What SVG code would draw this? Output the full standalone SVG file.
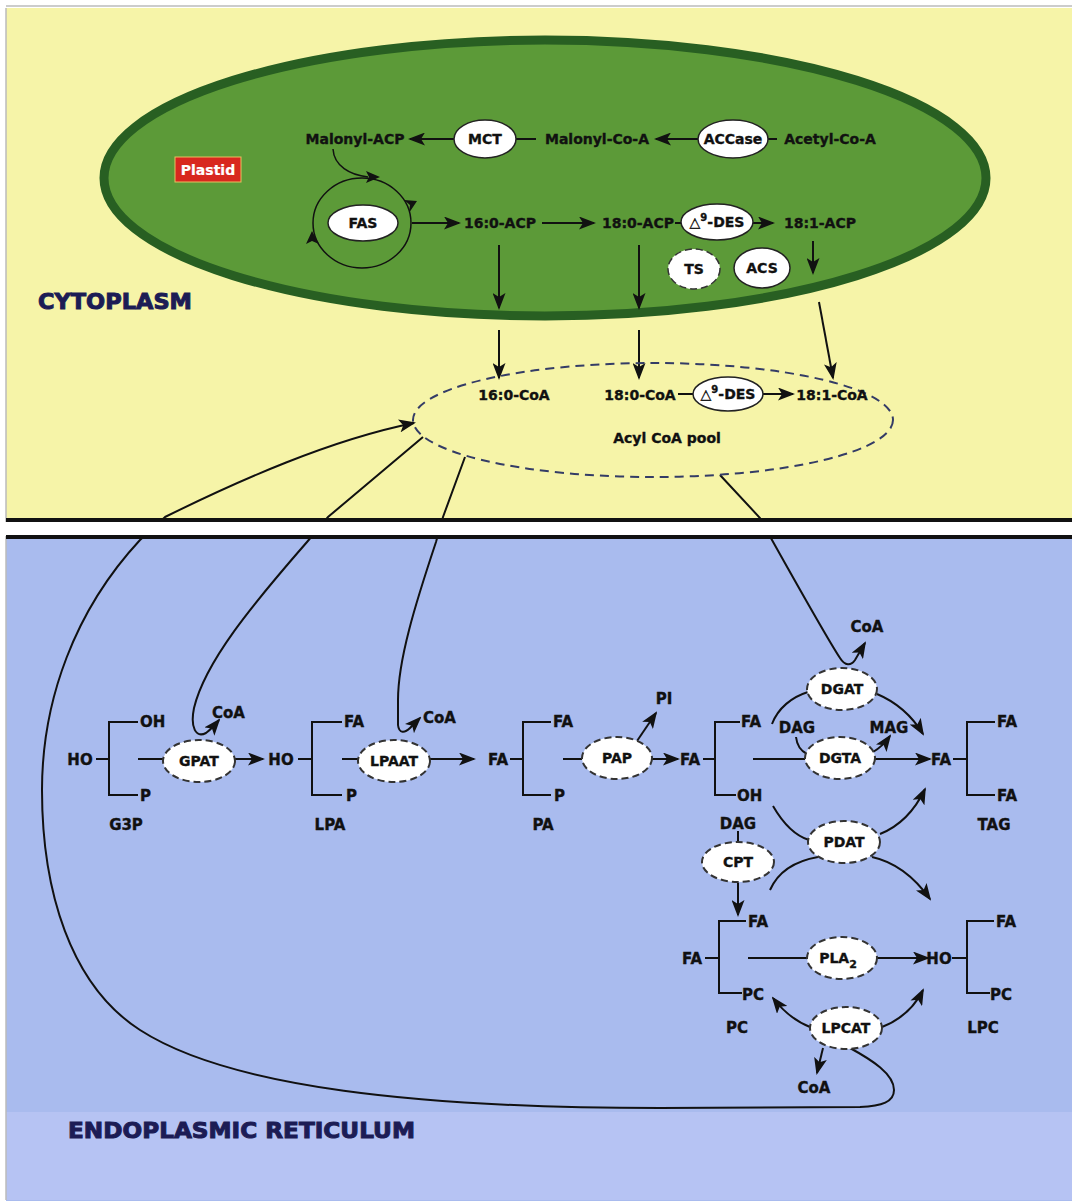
<svg xmlns="http://www.w3.org/2000/svg" width="1072" height="1203" viewBox="0 0 1072 1203">
<defs>
<marker id="ah" markerUnits="userSpaceOnUse" markerWidth="17" markerHeight="13" refX="15" refY="6.5" orient="auto">
<path d="M0,0 L17,6.5 L0,13 L4,6.5 z" fill="#111"/>
</marker>
</defs>
<style>
text{font-family:"DejaVu Sans","Liberation Sans",sans-serif;font-weight:bold;fill:#111;stroke:#111;stroke-width:0.35}
.t{font-size:14px;text-anchor:middle}
.e{font-size:14px;text-anchor:middle}
.l{font-size:15px}
.lc{font-size:15px;text-anchor:middle}
.head{font-size:22px;fill:#1c1c55;stroke:#1c1c55;stroke-width:1}
.line{fill:none;stroke:#111;stroke-width:2}
.arr{fill:none;stroke:#111;stroke-width:2;marker-end:url(#ah)}
.sol{fill:#fff;stroke:#222;stroke-width:1.5}
.dsh{fill:#fff;stroke:#333;stroke-width:2;stroke-dasharray:7,4}
.br{fill:none;stroke:#111;stroke-width:2}
</style>
<rect x="0" y="0" width="1072" height="1203" fill="#fff"/>
<!-- cytoplasm panel -->
<rect x="6" y="8" width="1066" height="512" fill="#f6f4a8"/>
<line x1="6" y1="6" x2="1072" y2="6" stroke="#ccc" stroke-width="2"/>
<!-- ER panel -->
<rect x="6" y="537" width="1066" height="664" fill="#a9bbee"/>
<rect x="6" y="1112" width="1066" height="88" fill="#b6c3f3"/>
<line x1="6" y1="8" x2="6" y2="1200" stroke="#bbb" stroke-width="1.5"/>

<!-- plastid -->
<g id="plastid">
<ellipse cx="545" cy="178" rx="441" ry="138" fill="#5c9a38" stroke="#285f22" stroke-width="9"/>
<rect x="175" y="157" width="66" height="25" fill="#d8281e" stroke="#e8c060" stroke-width="1"/>
<text x="208" y="175" style="font-size:14px;fill:#fff;stroke:#fff;stroke-width:0.2;text-anchor:middle">Plastid</text>
</g>

<!-- connectors -->
<g id="connectors">
<!-- plastid row 1 -->
<path class="arr" d="M454,139 L410,139"/>
<path class="line" d="M516,139 L536,139"/>
<path class="arr" d="M698,139 L656,139"/>
<path class="line" d="M768,139 L777,139"/>
<!-- FAS cycle -->
<ellipse cx="362" cy="223" rx="49" ry="45" fill="none" stroke="#111" stroke-width="1.5"/>
<path class="line" d="M333,149 C 334,166 350,175 368,177" style="stroke-width:1.5"/>
<path d="M366,171 L380,177 L366,183 L369,177 z" fill="#111"/>
<path d="M404,200 L417,201 L409,213 L410,205 z" fill="#111"/>
<path d="M306,244 L312,231 L319,244 L312,241 z" fill="#111"/>
<path class="arr" d="M412,223 L459,223"/>
<path class="arr" d="M542,223 L594,223"/>
<path class="line" d="M675,223 L682,223"/>
<path class="arr" d="M753,223 L773,223"/>
<!-- down arrows -->
<path class="arr" d="M499,245 L499,308"/>
<path class="arr" d="M639,245 L639,308"/>
<path class="arr" d="M813,241 L813,273"/>
<path class="arr" d="M499,330 L499,378"/>
<path class="arr" d="M639,330 L639,378"/>
<path class="arr" d="M819,302 L833,378"/>
<!-- pool -->
<path class="line" d="M678,394 L693,394"/>
<path class="arr" d="M763,394 L793,394"/>
<!-- big loop from LPCAT into pool -->
<path class="arr" d="M850,1048 C 872,1060 894,1074 894,1090 C 894,1102 882,1106 860,1107 L 660,1108 C 420,1108 230,1088 140,1030 C 70,985 42,890 42,790 C 42,700 75,610 140,540 L 165,517 C 240,480 330,440 414,423"/>
<!-- GPAT CoA line -->
<path class="arr" d="M423,437 L328,517 L307,542 C 252,605 205,662 194,708 C 190,728 196,738 206,733 C 210,730 214,726 219,720"/>
<!-- LPAAT CoA line -->
<path class="arr" d="M465,457 L443,517 L436,542 C 415,605 398,660 398,700 L 398,725 C 399,734 405,733 410,728 C 413,725 416,722 420,718"/>
<!-- DGAT CoA line -->
<path class="arr" d="M720,475 L760,518 L772,540 C 800,590 828,640 840,658 C 845,666 851,666 855,660 L 865,643"/>
<!-- G3P -> LPA -->
<path class="line" d="M138,759 L163,759"/>
<path class="arr" d="M235,759 L263,759"/>
<!-- LPA -> PA -->
<path class="line" d="M342,759 L358,759"/>
<path class="arr" d="M430,759 L474,759"/>
<!-- PA -> DAG -->
<path class="line" d="M563,759 L582,759"/>
<path class="arr" d="M652,759 L678,759"/>
<path class="arr" d="M637,741 L656,713"/>
<!-- DAG -> TAG -->
<path class="line" d="M753,759 L805,759"/>
<path class="arr" d="M875,759 L930,759"/>
<path class="line" d="M772,724 C 778,708 792,697 808,692"/>
<path class="arr" d="M877,694 C 896,702 912,716 923,734"/>
<path class="line" d="M796,737 C 797,746 801,751 807,754"/>
<path class="arr" d="M873,752 C 880,748 885,743 890,736"/>
<path class="line" d="M773,806 C 784,825 796,836 809,840"/>
<path class="arr" d="M880,834 C 900,826 915,810 925,789"/>
<path class="line" d="M770,890 C 778,872 795,861 818,857"/>
<path class="arr" d="M872,857 C 895,862 915,878 930,899"/>
<!-- CPT -->
<path class="line" d="M738,831 L738,842"/>
<path class="arr" d="M738,883 L738,915"/>
<!-- PC -> LPC -->
<path class="line" d="M748,958 L807,958"/>
<path class="arr" d="M877,958 L928,958"/>
<path class="arr" d="M810,1027 C 795,1021 783,1011 773,998"/>
<path class="arr" d="M882,1027 C 900,1020 914,1008 923,990"/>
<path class="arr" d="M823,1048 L817,1073"/>
</g>

<!-- Pool -->
<g id="acyl-coa-pool">
<ellipse cx="653" cy="420" rx="240" ry="57" fill="none" stroke="#343c66" stroke-width="2" stroke-dasharray="9,6"/>
<text class="t" x="514" y="400">16:0-CoA</text>
<text class="t" x="640" y="400">18:0-CoA</text>
<text class="t" x="832" y="400">18:1-CoA</text>
<text class="t" x="667" y="443">Acyl CoA pool</text>
</g>
<g id="des2"><ellipse class="sol" cx="728" cy="394" rx="35" ry="17"/><text class="e" x="728" y="399">△<tspan dy="-6" style="font-size:10px">9</tspan><tspan dy="6">-DES</tspan></text></g>

<!-- plastid texts -->
<g id="malonyl-acp"><text class="t" x="355" y="144">Malonyl-ACP</text></g>
<g id="mct"><ellipse class="sol" cx="485" cy="139" rx="31" ry="19"/><text class="e" x="485" y="144">MCT</text></g>
<g id="malonyl-coa"><text class="t" x="597" y="144">Malonyl-Co-A</text></g>
<g id="accase"><ellipse class="sol" cx="733" cy="139" rx="35" ry="19"/><text class="e" x="733" y="144">ACCase</text></g>
<g id="acetyl-coa"><text class="t" x="830" y="144">Acetyl-Co-A</text></g>
<g id="fas"><ellipse class="sol" cx="363" cy="223" rx="35" ry="18"/><text class="e" x="363" y="228">FAS</text></g>
<g id="c16acp"><text class="t" x="500" y="228">16:0-ACP</text></g>
<g id="c18acp"><text class="t" x="638" y="228">18:0-ACP</text></g>
<g id="des1"><ellipse class="sol" cx="717" cy="222" rx="36" ry="18"/><text class="e" x="717" y="227">△<tspan dy="-6" style="font-size:10px">9</tspan><tspan dy="6">-DES</tspan></text></g>
<g id="c181acp"><text class="t" x="820" y="228">18:1-ACP</text></g>
<g id="ts"><ellipse class="dsh" cx="694" cy="269" rx="26" ry="20" style="stroke-width:1.5"/><text class="e" x="694" y="274">TS</text></g>
<g id="acs"><ellipse class="sol" cx="762" cy="268" rx="28" ry="20"/><text class="e" x="762" y="273">ACS</text></g>

<text class="head" x="38" y="309" textLength="154" lengthAdjust="spacingAndGlyphs">CYTOPLASM</text>

<!-- gap between panels -->
<rect x="0" y="522" width="1072" height="14" fill="#fff"/>
<rect x="6" y="518" width="1066" height="4" fill="#111"/>
<rect x="6" y="535" width="1066" height="4" fill="#111"/>

<!-- ER nodes -->
<g id="g3p">
<text class="lc" x="80" y="765">HO</text>
<path class="br" d="M96,759 L109,759 M138,722 L109,722 L109,795 L138,795"/>
<text class="l" x="140" y="727">OH</text>
<text class="l" x="140" y="801">P</text>
<text class="lc" x="126" y="830">G3P</text>
</g>
<g id="gpat"><ellipse class="dsh" cx="199" cy="761" rx="36" ry="21"/><text class="e" x="199" y="766">GPAT</text></g>
<text class="l" x="212" y="718">CoA</text>
<g id="lpa">
<text class="lc" x="281" y="765">HO</text>
<path class="br" d="M298,759 L312,759 M342,722 L312,722 L312,795 L342,795"/>
<text class="l" x="344" y="727">FA</text>
<text class="l" x="346" y="801">P</text>
<text class="lc" x="330" y="830">LPA</text>
</g>
<g id="lpaat"><ellipse class="dsh" cx="394" cy="761" rx="36" ry="21"/><text class="e" x="394" y="766">LPAAT</text></g>
<text class="l" x="423" y="723">CoA</text>
<g id="pa">
<text class="lc" x="498" y="765">FA</text>
<path class="br" d="M510,759 L523,759 M551,722 L523,722 L523,795 L551,795"/>
<text class="l" x="553" y="727">FA</text>
<text class="l" x="554" y="801">P</text>
<text class="lc" x="543" y="830">PA</text>
</g>
<g id="pap"><ellipse class="dsh" cx="617" cy="758" rx="35" ry="21"/><text class="e" x="617" y="763">PAP</text></g>
<text class="lc" x="664" y="704">PI</text>
<g id="dag">
<text class="lc" x="690" y="765">FA</text>
<path class="br" d="M703,759 L715,759 M740,722 L715,722 L715,795 L736,795"/>
<text class="l" x="741" y="727">FA</text>
<text class="l" x="737" y="801">OH</text>
<text class="lc" x="738" y="829">DAG</text>
</g>
<g id="dgat"><ellipse class="dsh" cx="842" cy="689" rx="35" ry="21"/><text class="e" x="842" y="694">DGAT</text></g>
<text class="lc" x="867" y="632">CoA</text>
<text class="lc" x="797" y="733">DAG</text>
<text class="lc" x="889" y="733">MAG</text>
<g id="dgta"><ellipse class="dsh" cx="840" cy="758" rx="35" ry="21"/><text class="e" x="840" y="763">DGTA</text></g>
<g id="pdat"><ellipse class="dsh" cx="844" cy="842" rx="36" ry="21"/><text class="e" x="844" y="847">PDAT</text></g>
<g id="tag">
<text class="lc" x="941" y="765">FA</text>
<path class="br" d="M953,759 L967,759 M995,722 L967,722 L967,795 L995,795"/>
<text class="l" x="997" y="727">FA</text>
<text class="l" x="997" y="801">FA</text>
<text class="lc" x="994" y="830">TAG</text>
</g>
<g id="cpt"><ellipse class="dsh" cx="738" cy="862" rx="36" ry="20"/><text class="e" x="738" y="867">CPT</text></g>
<g id="pc">
<text class="lc" x="692" y="964">FA</text>
<path class="br" d="M705,958 L719,958 M746,921 L719,921 L719,993 L742,993"/>
<text class="l" x="748" y="927">FA</text>
<text class="l" x="742" y="1000">PC</text>
<text class="lc" x="737" y="1033">PC</text>
</g>
<g id="pla2"><ellipse class="dsh" cx="842" cy="958" rx="35" ry="21"/><text class="e" x="838" y="963">PLA<tspan dy="5" style="font-size:11px">2</tspan></text></g>
<g id="lpc">
<text class="lc" x="939" y="964">HO</text>
<path class="br" d="M952,958 L967,958 M994,921 L967,921 L967,993 L990,993"/>
<text class="l" x="996" y="927">FA</text>
<text class="l" x="990" y="1000">PC</text>
<text class="lc" x="983" y="1033">LPC</text>
</g>
<g id="lpcat"><ellipse class="dsh" cx="846" cy="1028" rx="36" ry="21"/><text class="e" x="846" y="1033">LPCAT</text></g>
<text class="lc" x="814" y="1093">CoA</text>

<text class="head" x="68" y="1138" textLength="347" lengthAdjust="spacingAndGlyphs">ENDOPLASMIC RETICULUM</text>
</svg>
